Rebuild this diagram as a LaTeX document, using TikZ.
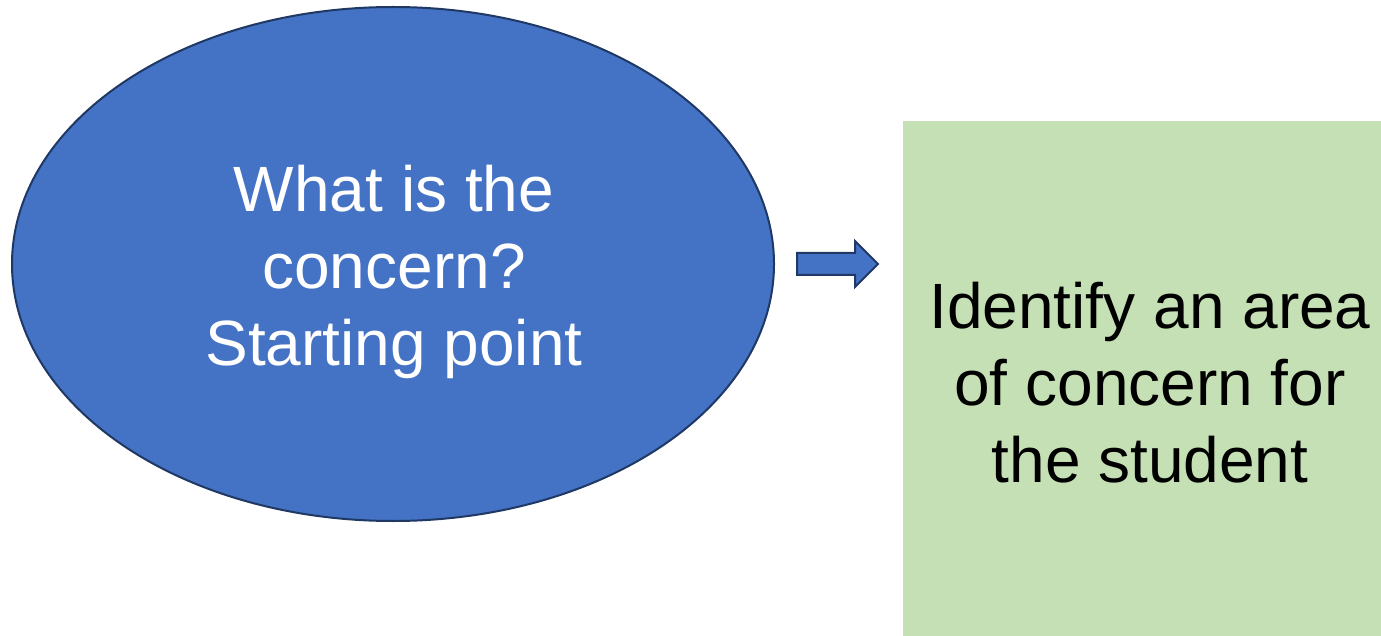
\documentclass[tikz,border=0pt]{standalone}
\usepackage{fontspec}
\setmainfont{Liberation Sans}
\usetikzlibrary{shapes.geometric,calc}
\definecolor{bluefill}{HTML}{4472C4}
\definecolor{navyline}{HTML}{1F3864}
\definecolor{greenfill}{HTML}{C5E0B4}
\begin{document}
\begin{tikzpicture}[x=1pt,y=-1pt,
  bigtext/.style={font=\fontsize{64}{77}\selectfont, align=center, inner sep=0pt},
  blockarrow/.style={draw=navyline, fill=bluefill, line width=2pt, line join=miter}]
\useasboundingbox (0,0) rectangle (1381,636);
\node[ellipse, draw=navyline, line width=2pt, fill=bluefill, minimum width=762pt, minimum height=514pt, inner sep=0pt] (concern) at (393,264) {};
\node[bigtext, text=white] (concerntext) at (394,272) {What is the\\concern?\\Starting point};
\node[fill=greenfill, inner sep=0pt, minimum width=478pt, minimum height=530pt, anchor=north west] (area) at (903,121) {};
\node[bigtext, text=black] (areatext) at (1150,383) {Identify an area\\of concern for\\the student};
\coordinate (as) at ($(concern.east)+(22,0)$);
\coordinate (at) at ($(area.west |- concern.east)+(-25,0)$);
\draw[blockarrow] ($(as)+(0,-11)$) -- ($(at)+(-23,-11)$) -- ($(at)+(-23,-23)$) -- (at) -- ($(at)+(-23,23)$) -- ($(at)+(-23,11)$) -- ($(as)+(0,11)$) -- cycle;
\end{tikzpicture}
\end{document}
